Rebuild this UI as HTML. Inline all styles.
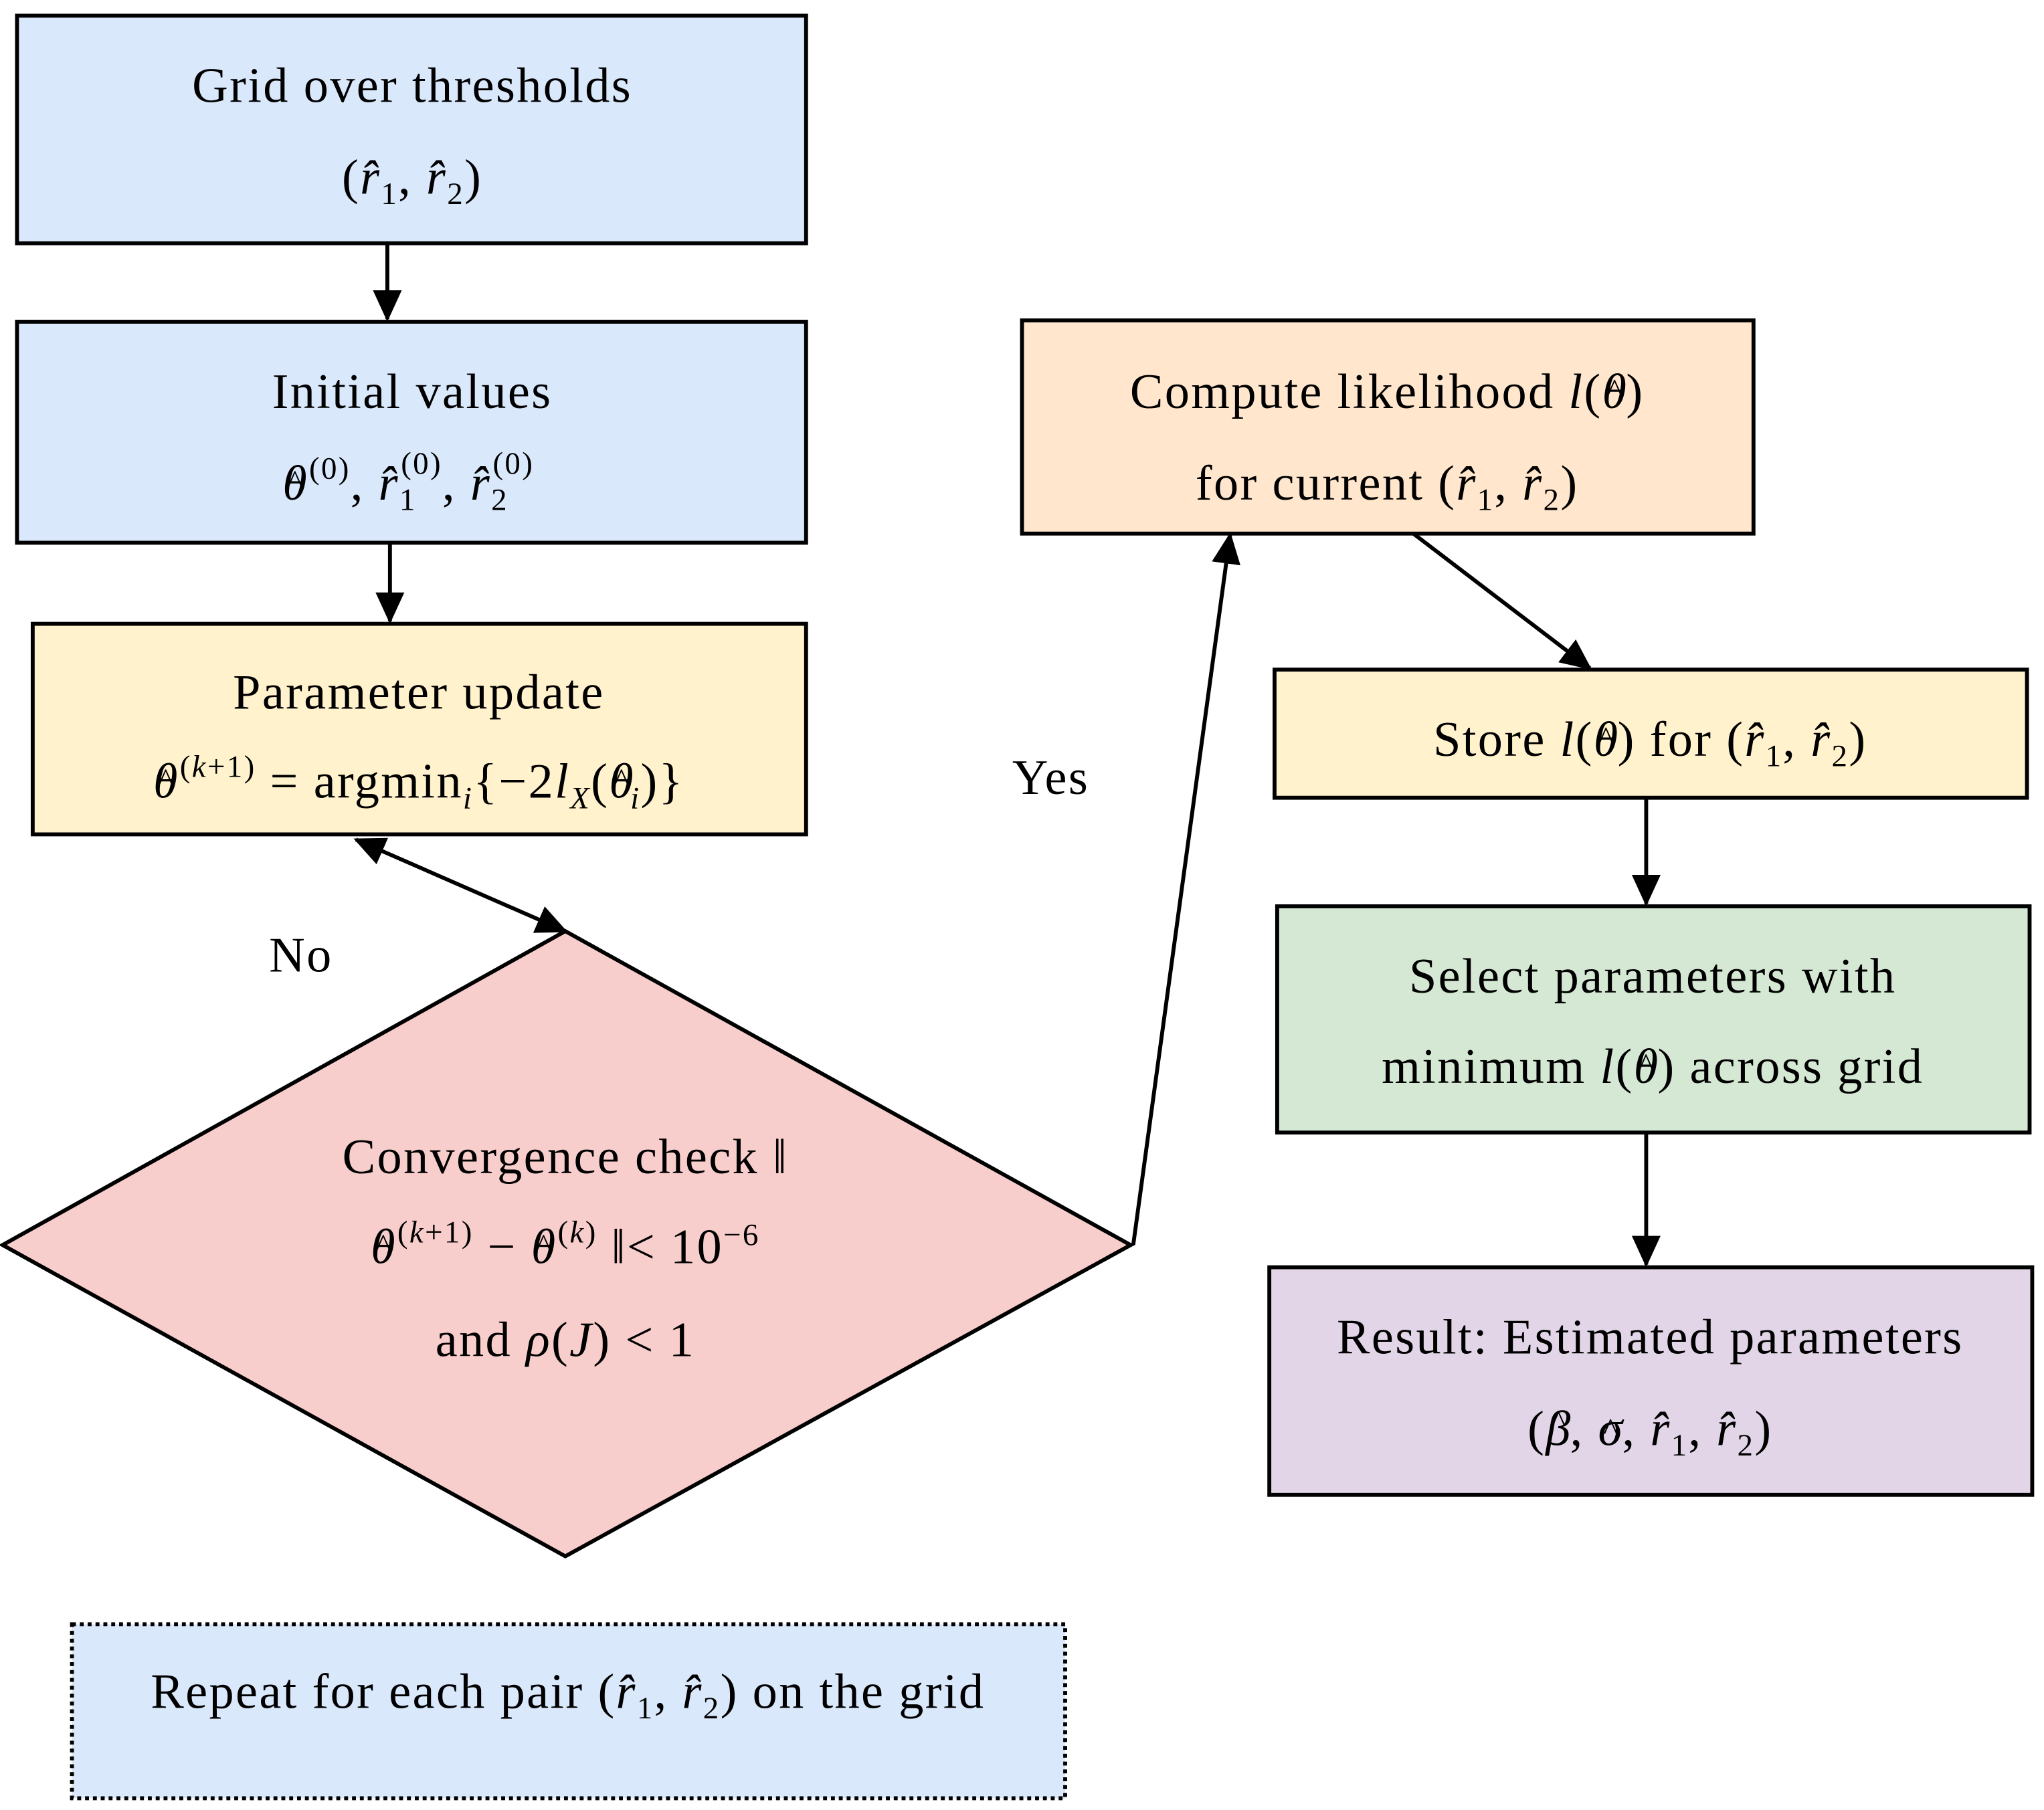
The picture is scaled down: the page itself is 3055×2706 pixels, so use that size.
<!DOCTYPE html>
<html><head><meta charset="utf-8"><style>
html,body{margin:0;padding:0;background:#fff;}
svg{display:block;}
text{font-family:"Liberation Serif",serif;font-size:38px;letter-spacing:1.2px;fill:#000;}
.m{font-style:italic;}
</style></head><body>
<svg width="3055" height="2706" viewBox="0 0 1562 1384" preserveAspectRatio="none" xmlns="http://www.w3.org/2000/svg">
<defs>
<marker id="ah" markerWidth="24" markerHeight="24" refX="22" refY="12" orient="auto" markerUnits="userSpaceOnUse" viewBox="0 0 24 24"><path d="M0,1 L24,12 L0,23z" fill="#000"/></marker>
<marker id="as" markerWidth="24" markerHeight="24" refX="2" refY="12" orient="auto" markerUnits="userSpaceOnUse" viewBox="0 0 24 24"><path d="M24,1 L0,12 L24,23z" fill="#000"/></marker></defs>
<g stroke="#000" stroke-width="3">
<rect x="13" y="12" width="603" height="174" fill="#dae8fc"/>
<rect x="13" y="246" width="603" height="169" fill="#dae8fc"/>
<rect x="25" y="477" width="591" height="161" fill="#fff2cc"/>
<polygon points="2,952 432,712 864,952 432,1190" fill="#f8cecc"/>
<rect x="55" y="1242" width="759" height="133" fill="#dae8fc" stroke-dasharray="3,3"/>
<rect x="781" y="245" width="559" height="163" fill="#ffe6cc"/>
<rect x="974" y="512" width="575" height="98" fill="#fff2cc"/>
<rect x="976" y="693" width="575" height="173" fill="#d5e8d4"/>
<rect x="970" y="969" width="583" height="174" fill="#e1d5e7"/>
</g>
<g stroke="#000" stroke-width="3" fill="none">
<line x1="296" y1="186" x2="296" y2="244" marker-end="url(#ah)"/>
<line x1="298" y1="415" x2="298" y2="475" marker-end="url(#ah)"/>
<line x1="272" y1="642" x2="432" y2="712" marker-start="url(#as)" marker-end="url(#ah)"/>
<line x1="866" y1="952" x2="940" y2="409" marker-end="url(#ah)"/>
<line x1="1080" y1="408" x2="1215" y2="511" marker-end="url(#ah)"/>
<line x1="1258" y1="610" x2="1258" y2="691" marker-end="url(#ah)"/>
<line x1="1258" y1="866" x2="1258" y2="967" marker-end="url(#ah)"/>
</g>
<g text-anchor="middle">
<text x="315" y="78">Grid over thresholds</text>
<text x="315" y="148">(<tspan class="m">r̂</tspan><tspan font-size="24" dy="8">1</tspan><tspan dy="-8">, </tspan><tspan class="m">r̂</tspan><tspan font-size="24" dy="8">2</tspan><tspan dy="-8">)</tspan></text>
<text x="315" y="312">Initial values</text>
<text x="312" y="382"><tspan class="m">θ</tspan><tspan dx="-16" dy="-6" font-size="24">^</tspan><tspan font-size="24" dx="4" dy="-10">(0)</tspan><tspan dy="16">, </tspan><tspan class="m">r̂</tspan><tspan font-size="24" dy="8">1</tspan><tspan font-size="24" dx="-12" dy="-28">(0)</tspan><tspan dy="20">, </tspan><tspan class="m">r̂</tspan><tspan font-size="24" dy="8">2</tspan><tspan font-size="24" dx="-12" dy="-28">(0)</tspan></text>
<text x="320" y="542">Parameter update</text>
<text x="320" y="610"><tspan class="m">θ</tspan><tspan dx="-16" dy="-6" font-size="24">^</tspan><tspan font-size="24" dx="4" dy="-10">(<tspan class="m">k</tspan>+1)</tspan><tspan dy="16"> = argmin</tspan><tspan font-size="24" dy="8" class="m">i</tspan><tspan dy="-8">{−2</tspan><tspan class="m">l</tspan><tspan font-size="24" dy="8" class="m">X</tspan><tspan dy="-8">(</tspan><tspan class="m">θ</tspan><tspan dx="-16" dy="-6" font-size="24">^</tspan><tspan font-size="24" dy="14" class="m">i</tspan><tspan dy="-8">)}</tspan></text>
<text x="230" y="743">No</text>
<text x="803" y="607">Yes</text>
<text x="432" y="897">Convergence check  ‖</text>
<text x="432" y="966"><tspan class="m">θ</tspan><tspan dx="-16" dy="-6" font-size="24">^</tspan><tspan font-size="24" dx="4" dy="-10">(<tspan class="m">k</tspan>+1)</tspan><tspan dy="16"> − </tspan><tspan class="m">θ</tspan><tspan dx="-16" dy="-6" font-size="24">^</tspan><tspan font-size="24" dx="4" dy="-10">(<tspan class="m">k</tspan>)</tspan><tspan dy="16"> ‖&lt; 10</tspan><tspan font-size="24" dy="-14">−6</tspan></text>
<text x="432" y="1037">and  <tspan class="m">ρ</tspan>(<tspan class="m">J</tspan>) &lt; 1</text>
<text x="434" y="1306">Repeat for each pair  (<tspan class="m">r̂</tspan><tspan font-size="24" dy="8">1</tspan><tspan dy="-8">, </tspan><tspan class="m">r̂</tspan><tspan font-size="24" dy="8">2</tspan><tspan dy="-8">)  on the grid</tspan></text>
<text x="1060" y="312">Compute likelihood  <tspan class="m">l</tspan>(<tspan class="m">θ</tspan><tspan dx="-16" dy="-6" font-size="24">^</tspan><tspan dx="2" dy="6">)</tspan></text>
<text x="1060" y="382">for current  (<tspan class="m">r̂</tspan><tspan font-size="24" dy="8">1</tspan><tspan dy="-8">, </tspan><tspan class="m">r̂</tspan><tspan font-size="24" dy="8">2</tspan><tspan dy="-8">)</tspan></text>
<text x="1261" y="578">Store  <tspan class="m">l</tspan>(<tspan class="m">θ</tspan><tspan dx="-16" dy="-6" font-size="24">^</tspan><tspan dx="2" dy="6">)  for  (</tspan><tspan class="m">r̂</tspan><tspan font-size="24" dy="8">1</tspan><tspan dy="-8">, </tspan><tspan class="m">r̂</tspan><tspan font-size="24" dy="8">2</tspan><tspan dy="-8">)</tspan></text>
<text x="1263" y="759">Select parameters with</text>
<text x="1263" y="828">minimum  <tspan class="m">l</tspan>(<tspan class="m">θ</tspan><tspan dx="-16" dy="-6" font-size="24">^</tspan><tspan dx="2" dy="6">)  across grid</tspan></text>
<text x="1261" y="1035">Result: Estimated parameters</text>
<text x="1261" y="1105">(<tspan class="m">β</tspan><tspan dx="-16" dy="-10" font-size="24">^</tspan><tspan dx="2" dy="10">, </tspan><tspan class="m">σ</tspan><tspan dx="-16" dy="-4" font-size="24">^</tspan><tspan dx="2" dy="4">, </tspan><tspan class="m">r̂</tspan><tspan font-size="24" dy="8">1</tspan><tspan dy="-8">, </tspan><tspan class="m">r̂</tspan><tspan font-size="24" dy="8">2</tspan><tspan dy="-8">)</tspan></text>
</g>
</svg>
</body></html>
